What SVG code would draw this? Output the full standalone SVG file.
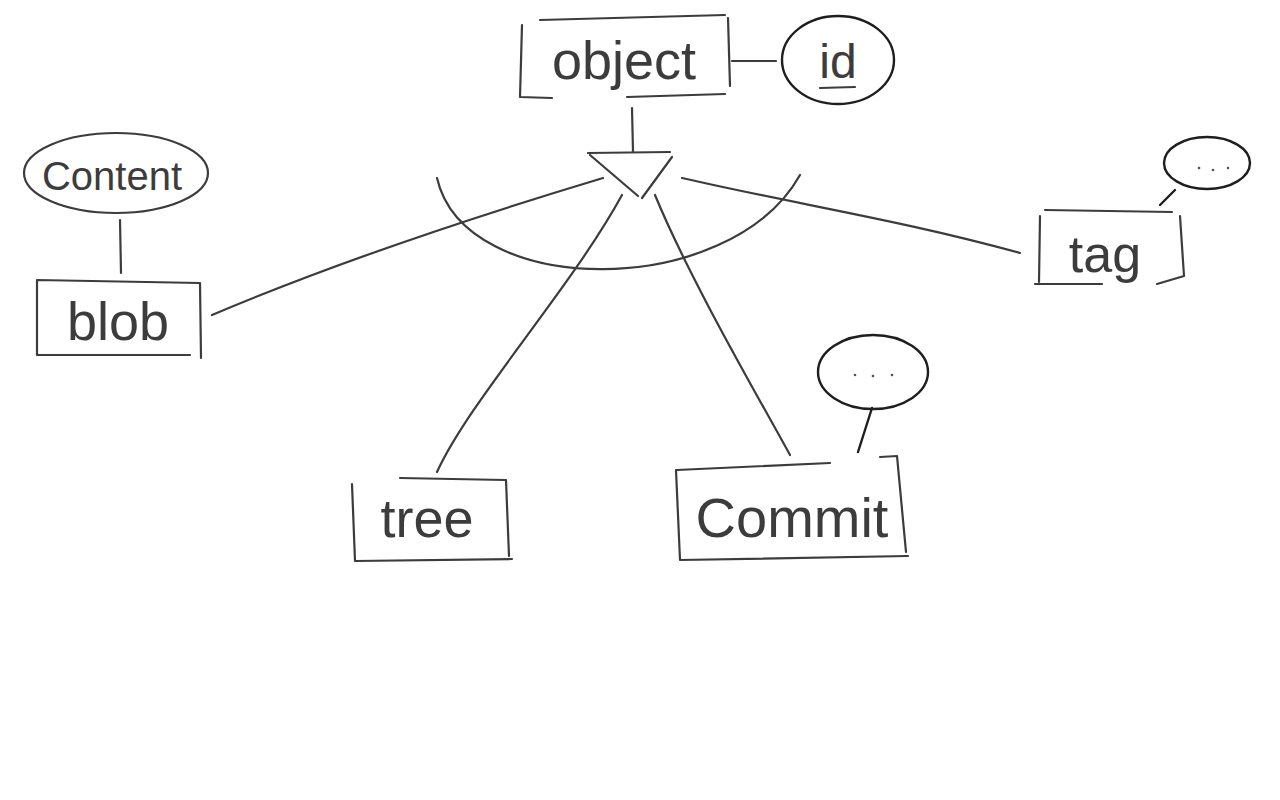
<svg xmlns="http://www.w3.org/2000/svg" width="1280" height="800" viewBox="0 0 1280 800">
<style>
.s{fill:none;stroke:#3c3c3c;stroke-width:2.2;stroke-linecap:round;stroke-linejoin:round}
.d{fill:none;stroke:#1e1e1e;stroke-width:2.4;stroke-linecap:round}
.t{font-family:"Liberation Sans","DejaVu Sans",sans-serif;fill:#3c3c3c;text-anchor:middle}
.dot{fill:#555}
</style>
<rect width="1280" height="800" fill="#fff"/>
<g id="connectors">
<path class="s" d="M732,61 L776,61"/>
<path class="s" d="M632,108 L633,152"/>
<path class="s" d="M603,178 C480,215 330,265 212,315"/>
<path class="s" d="M622,195 C570,290 470,400 437,472"/>
<path class="s" d="M655,195 C690,280 760,400 790,455"/>
<path class="s" d="M682,178 C800,205 900,220 1020,253"/>
<path class="s" d="M120,220 L121,273"/>
<path class="d" d="M872,408 L858,452"/>
<path class="d" d="M1175,190 L1160,205"/>
</g>
<g id="isa">
<path class="s" d="M588,153 L670,152"/>
<path class="s" d="M590,155 L638,196"/>
<path class="s" d="M672,157 L642,198"/>
<path class="s" d="M437,178 C465,300 730,300 800,175"/>
</g>
<g id="object">
<path class="s" d="M540,20 L725,15 M522,25 L520,97 L552,98 M728,18 L730,86 M627,97 L725,94"/>
<text class="t" x="624" y="79" font-size="54">object</text>
</g>
<g id="id">
<ellipse class="d" cx="838" cy="60" rx="56" ry="44"/>
<text class="t" x="838" y="78" font-size="48">id</text>
<path class="s" d="M820,88 L855,87"/>
</g>
<g id="content">
<ellipse class="s" cx="116" cy="173" rx="92" ry="40"/>
<text class="t" x="112" y="190" font-size="40">Content</text>
</g>
<g id="blob">
<path class="s" d="M37,280 L200,283 M37,280 L37,355 L190,355 M200,283 L201,358"/>
<text class="t" x="118" y="340" font-size="54">blob</text>
</g>
<g id="tree">
<path class="s" d="M400,478 L505,480 M352,484 L355,561 L512,559 M506,480 L509,556"/>
<text class="t" x="427" y="537" font-size="54">tree</text>
</g>
<g id="commit">
<path class="s" d="M677,470 L830,463 M676,470 L680,560 L908,556 M880,457 L897,456 L906,552"/>
<text class="t" x="792" y="537" font-size="56">Commit</text>
</g>
<g id="commit_attr">
<ellipse class="d" cx="873" cy="372" rx="55" ry="37"/>
<circle class="dot" cx="855" cy="375" r="1.3"/>
<circle class="dot" cx="873" cy="376" r="1.3"/>
<circle class="dot" cx="892" cy="375" r="1.3"/>
</g>
<g id="tag">
<path class="s" d="M1045,210 L1172,212 M1040,216 L1039,282 M1035,284 L1102,284 M1180,216 L1184,276 L1157,284"/>
<text class="t" x="1105" y="272" font-size="52">tag</text>
</g>
<g id="tag_attr">
<ellipse class="d" cx="1207" cy="163" rx="43" ry="26"/>
<circle class="dot" cx="1199" cy="168" r="1.3"/>
<circle class="dot" cx="1213" cy="170" r="1.3"/>
<circle class="dot" cx="1228" cy="168" r="1.3"/>
</g>
</svg>
